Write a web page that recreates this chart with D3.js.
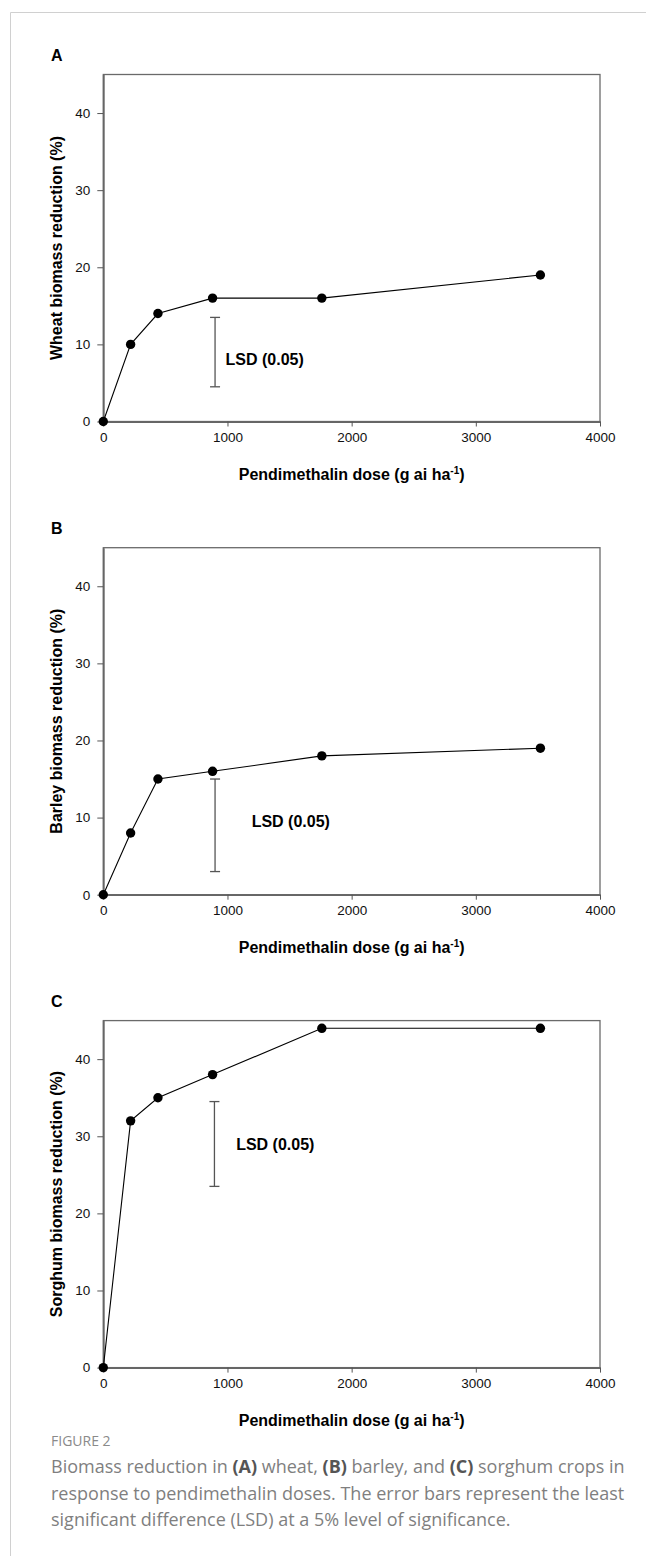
<!DOCTYPE html>
<html>
<head>
  <meta charset="utf-8">
  <title>Biomass reduction vs pendimethalin dose</title>
  <script src="https://d3js.org/d3.v7.min.js"></script>
  <style>
    body { margin: 0; background: #fff; }
    svg { display: block; }
  </style>
</head>
<body>
  <div id="chart"></div>
  <script>
  // data
  var doses = [0, 220, 440, 880, 1760, 3520];
  var wheat = [0, 10, 14, 16, 16, 19];
  var barley = [0, 8, 15, 16, 18, 19];
  var sorghum = [0, 32, 35, 38, 44, 44];

  // LSD (0.05) bars: [low, high] and the dose where drawn
  var lsdWheat = [4.5, 13.5];
  var lsdBarley = [3, 15];
  var lsdSorghum = [23.5, 34.5];
  var lsdDose = [900, 900, 895];

  var panelLetters = ["A", "B", "C"];
  var yTitles = ["Wheat biomass reduction (%)", "Barley biomass reduction (%)", "Sorghum biomass reduction (%)"];
  var xTicks = [0, 1000, 2000, 3000, 4000];
  var yTicks = [0, 10, 20, 30, 40];

  var panels = [
    {values: wheat, lsd: lsdWheat},
    {values: barley, lsd: lsdBarley},
    {values: sorghum, lsd: lsdSorghum}
  ];
  // where the "LSD (0.05)" label sits, in data units
  var lsdLabelAt = [[985, 8], [1195, 9.5], [1070, 29]];

  var W = 646, H = 1556;
  var left = 103.3, plotW = 496.7, plotH = 347;
  var tops = [74.5, 547.7, 1020.6];

  var svg = d3.select("#chart").append("svg")
    .attr("width", W)
    .attr("height", H);

  svg.append("rect").attr("width", W).attr("height", H).attr("fill", "#fff");

  // page border lines
  svg.append("line").attr("x1", 10.5).attr("x2", W).attr("y1", 12.5).attr("y2", 12.5)
    .attr("stroke", "#d0d0d0").attr("stroke-width", 1);
  svg.append("line").attr("x1", 10.5).attr("x2", 10.5).attr("y1", 12.5).attr("y2", H)
    .attr("stroke", "#d0d0d0").attr("stroke-width", 1);

  var x = d3.scaleLinear().domain([0, 4000]).range([0, plotW]);
  var y = d3.scaleLinear().domain([0, 45]).range([plotH, 0]);

  var boldFont = "'Liberation Sans', Arial, sans-serif";

  panels.forEach(function(p, i) {
    var g = svg.append("g").attr("transform", "translate(" + left + "," + tops[i] + ")");

    // frame
    g.append("rect")
      .attr("width", plotW).attr("height", plotH)
      .attr("fill", "none").attr("stroke", "#6a6a6a").attr("stroke-width", 1.3);

    // axes
    var ya = g.append("g")
      .call(d3.axisLeft(y).tickValues(yTicks).tickSize(6).tickSizeOuter(0).tickPadding(7)
        .tickFormat(d3.format("d")));
    var xa = g.append("g")
      .attr("transform", "translate(0," + plotH + ")")
      .call(d3.axisBottom(x).tickValues(xTicks).tickSize(5).tickSizeOuter(0).tickPadding(6)
        .tickFormat(d3.format("d")));
    [ya, xa].forEach(function(a) {
      a.select(".domain").attr("stroke", "#666").attr("stroke-width", 1.8);
      a.selectAll(".tick line").attr("stroke", "#555").attr("stroke-width", 1);
      a.selectAll(".tick text")
        .attr("font-family", boldFont).attr("font-size", 13.5).attr("fill", "#111");
    });

    // panel letter
    svg.append("text")
      .attr("x", 51).attr("y", tops[i] - 14)
      .attr("font-family", boldFont).attr("font-size", 16).attr("font-weight", "bold")
      .text(panelLetters[i]);

    // y title
    g.append("text")
      .attr("transform", "rotate(-90)")
      .attr("x", -plotH / 2).attr("y", -left + 62)
      .attr("text-anchor", "middle")
      .attr("font-family", boldFont).attr("font-size", 16).attr("font-weight", "bold")
      .text(yTitles[i]);

    // x title with superscript
    var xt = g.append("text")
      .attr("x", plotW / 2).attr("y", plotH + 58)
      .attr("text-anchor", "middle")
      .attr("font-family", boldFont).attr("font-size", 16).attr("font-weight", "bold");
    xt.append("tspan").text("Pendimethalin dose (g ai ha");
    xt.append("tspan").attr("dy", -6).attr("font-size", 10).text("-1");
    xt.append("tspan").attr("dy", 6).text(")");

    // LSD bar
    var lx = x(lsdDose[i]);
    var lsdG = g.append("g").attr("stroke", "#555").attr("stroke-width", 1.3);
    lsdG.append("line").attr("x1", lx).attr("x2", lx).attr("y1", y(p.lsd[0])).attr("y2", y(p.lsd[1]));
    lsdG.selectAll("line.cap").data(p.lsd).enter().append("line")
      .attr("class", "cap")
      .attr("x1", lx - 5).attr("x2", lx + 5)
      .attr("y1", function(d) { return y(d); }).attr("y2", function(d) { return y(d); });
    g.append("text")
      .attr("x", x(lsdLabelAt[i][0])).attr("y", y(lsdLabelAt[i][1]))
      .attr("dy", "0.35em")
      .attr("font-family", boldFont).attr("font-size", 16).attr("font-weight", "bold")
      .text("LSD (0.05)");

    // line + points
    var pts = doses.map(function(d, k) { return [d, p.values[k]]; });
    g.append("path")
      .datum(pts)
      .attr("fill", "none").attr("stroke", "#000").attr("stroke-width", 1.1)
      .attr("d", d3.line().x(function(d) { return x(d[0]); }).y(function(d) { return y(d[1]); }));
    g.selectAll("circle").data(pts).enter().append("circle")
      .attr("cx", function(d) { return x(d[0]); })
      .attr("cy", function(d) { return y(d[1]); })
      .attr("r", 4.7)
      .attr("fill", "#000");
  });

  // caption
  var capFont = "'Open Sans', 'Noto Sans', sans-serif";
  svg.append("text")
    .attr("x", 51).attr("y", 1446)
    .attr("font-family", capFont).attr("font-size", 14).attr("fill", "#8a8a8a")
    .text("FIGURE 2");

  var capLines = [
    [["Biomass reduction in ", false], ["(A)", true], [" wheat, ", false], ["(B)", true], [" barley, and ", false], ["(C)", true], [" sorghum crops in", false]],
    [["response to pendimethalin doses. The error bars represent the least", false]],
    [["significant difference (LSD) at a 5% level of significance.", false]]
  ];
  capLines.forEach(function(line, i) {
    var t = svg.append("text")
      .attr("x", 51).attr("y", 1473 + i * 26.5)
      .attr("font-family", capFont).attr("font-size", 18).attr("fill", "#7f7f7f");
    line.forEach(function(seg) {
      t.append("tspan")
        .attr("font-weight", seg[1] ? "bold" : "normal")
        .attr("fill", seg[1] ? "#555" : "#7f7f7f")
        .text(seg[0]);
    });
  });
  </script>
</body>
</html>
